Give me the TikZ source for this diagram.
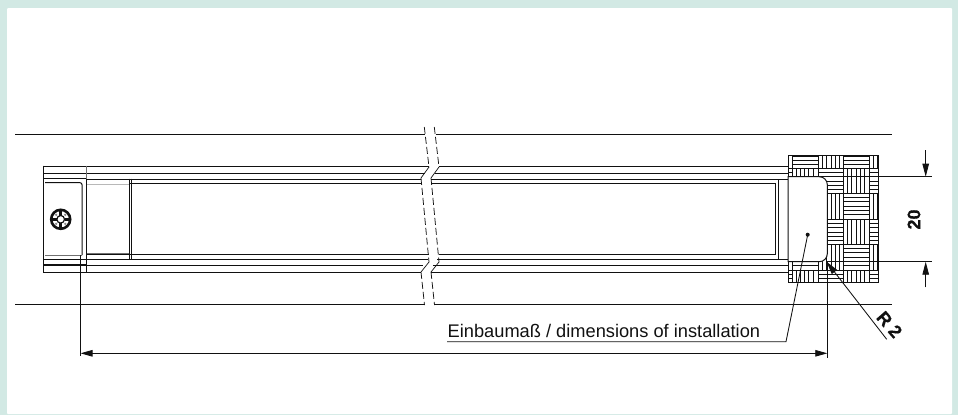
\documentclass[tikz,border=0pt]{standalone}
\usepackage{fontspec}
\setmainfont{Liberation Sans}
\newfontfamily\boldlabel[FakeBold=0.6]{Liberation Sans Bold}
\usetikzlibrary{arrows.meta}
\definecolor{panelbg}{HTML}{D2E9E4}
\definecolor{ink}{HTML}{111111}
\tikzset{
  x=1pt,y=-1pt,
  ln/.style={draw=ink,line width=1pt},
  lnfine/.style={draw=ink,line width=0.7pt},
  grey/.style={draw=ink!60,line width=0.9pt},
  faint/.style={draw=ink!30,line width=0.8pt},
  brk/.style={draw=ink,line width=0.75pt,dash pattern=on 7pt off 3pt},
  dim/.style={draw=ink,line width=0.85pt},
  tip/.style={-{Triangle[length=13pt,width=6.5pt]}},
  tips/.style={{Triangle[length=12pt,width=6.5pt]}-{Triangle[length=12pt,width=6.5pt]}},
  lab/.style={font=\fontsize{18.25}{20}\selectfont,text=ink,inner sep=0pt},
  blab/.style={font=\fontsize{18}{20}\boldlabel,text=ink,inner sep=0pt},
}
\begin{document}
\begin{tikzpicture}
\useasboundingbox (0,0) rectangle (958,415);
\fill[panelbg] (0,0) rectangle (958,415);
\fill[white,rounded corners=1pt] (7,8) rectangle (952,414);

% long reference lines
\foreach \yy/\a/\b in {134/424.5/435.5,304/424.5/434.5}{
  \draw[ln] (15,\yy) -- (\a,\yy);
  \draw[ln] (\b,\yy) -- (892,\yy);
}

% body, left of and right of the break
\foreach \yy/\a/\b in {166.5/429/439,173/424.5/435,179/421/431,183.3/421/431,254.8/429/439,259/427.5/437,265/423/433,272.5/421/431}{
  \draw[ln] (43.3,\yy) -- (\a,\yy);
}
\foreach \yy/\a/\b/\e in {166.5/429/439/788,173/424.5/435/788,179/421/431/788,183.3/421/431/775.8,254.8/429/439/775.8,259/427.5/437/788,265/423/433/788,272.5/421/431/788}{
  \draw[ln] (\b,\yy) -- (\e,\yy);
}
% left end cap: white out what belongs to the screw housing
\fill[white] (44,174) rectangle (85.6,264.4);
\fill[white] (87,180) rectangle (129,254);
\draw[ln] (43.3,165.7) -- (43.3,272.5);
\draw[grey] (86,165.7) -- (86,178.7);
\draw[ln] (86,178.7) -- (86,272.5);
\draw[ln] (43.3,178.7) -- (86,178.7);
\draw[ln] (43.3,259) -- (86,259);
\draw[ln] (45,182.7) -- (80,182.7) arc[start angle=-90,end angle=0,radius=2] -- (82,255);
\draw[grey] (45,255.5) -- (82,255.5);
\draw[ln] (43.3,264.5) -- (86,264.5);
\draw[faint] (87,184) -- (129,184);
\draw[grey] (86.5,253.5) -- (129,253.5);
\draw[ln] (129.4,178.7) -- (129.4,259);
\draw[ln] (131,178.7) -- (131,259);

% screw
\coordinate (screw) at (60.7,219.3);
\draw[draw=ink,line width=2.6pt] (screw) circle[radius=9.5];
\draw[draw=ink,line width=1.2pt] (screw) circle[radius=3.8];
\foreach \r in {0,90,180,270}{
  \draw[draw=ink,line width=2.6pt] (screw) ++(\r:3.8) -- ++(\r:5.2);
}
\foreach \r in {45,135,225,315}{
  \fill[ink!50] (screw) ++(\r:6.4) circle[radius=1.3];
}

% break lines
\foreach \dx in {0,10}{
  \draw[brk] (424.3+\dx,127) -- (429+\dx,167);
  \draw[lnfine] (429+\dx,167) -- (421+\dx,178);
  \draw[brk] (421+\dx,178) -- (429+\dx,262);
  \draw[lnfine] (429+\dx,262) -- (421+\dx,272);
  \draw[brk] (421+\dx,272) -- (424.5+\dx,305);
}

% right end: inner frame
\draw[ln] (778.5,179) -- (778.5,259);
\draw[ln] (775.8,183.3) -- (775.8,254.8);

% hatched block
\begin{scope}
\clip (788,155.3) rectangle (878,282.7);
\foreach \r/\yt in {0/143.3,1/168.3,2/193.3,3/219.3,4/244.3,5/270}{
  \foreach \c/\xl in {0/767,1/792,2/818.3,3/843.3,4/869.3}{
    \pgfmathtruncatemacro{\myp}{mod(\r+\c,2)}
    \ifnum\myp=0
      \foreach \k in {1,...,5}{
        \draw[lnfine] ({\xl+\k*4.2},\yt) -- ({\xl+\k*4.2},{\yt+25.5});
      }
    \else
      \foreach \k in {1,...,5}{
        \draw[lnfine] (\xl,{\yt+\k*4.2}) -- ({\xl+25.5},{\yt+\k*4.2});
      }
    \fi
  }
}
\foreach \xx in {792,818.3,843.3,869.3}{\draw[ln] (\xx,155) -- (\xx,283);}
\foreach \yy in {168.3,193.3,219.3,244.3,270}{\draw[ln] (788,\yy) -- (878,\yy);}
\end{scope}
\draw[ln] (788,155.3) rectangle (878,282.7);

% cut-out with radius corners
\filldraw[fill=white,draw=ink,line width=1pt] (788,176.7) -- (819.3,176.7) arc[start angle=-90,end angle=0,radius=8] -- (827.3,253.7) arc[start angle=0,end angle=90,radius=8] -- (788,261.7) -- cycle;

% named points for the dimensions
\coordinate (holeTop) at (827.3,176.7);
\coordinate (holeBot) at (827.3,261.7);
\coordinate (leftRef) at (80,255);
\coordinate (leftEnd) at (80,356);
\coordinate (rightEnd) at (827.3,358);
\coordinate (dimA) at (80.5,353.3);
\coordinate (dimB) at (827.3,353.3);
\coordinate (topEnd) at (932,176.7);
\coordinate (botEnd) at (932,261.7);
\coordinate (vTop) at (925.7,150);
\coordinate (vBot) at (925.7,287.3);
\coordinate (vTipT) at (925.7,176.7);
\coordinate (vTipB) at (925.7,261.7);
\coordinate (rFar) at (886.7,339.3);
\coordinate (rTip) at (826.5,261.7);
\coordinate (dot) at (807.7,234.7);
\coordinate (elbow) at (786,341.7);
\coordinate (lineL) at (447,341.7);

\draw[dim] (holeTop) -- (topEnd);
\draw[dim] (holeBot) -- (botEnd);
\draw[dim] (leftRef) -- (leftEnd);
\draw[dim] (holeBot) -- (rightEnd);
\draw[dim,tips] (dimA) -- (dimB);
\draw[dim,tip] (vTop) -- (vTipT);
\draw[dim,tip] (vBot) -- (vTipB);
\draw[dim,tip] (rFar) -- (rTip);
\fill[ink] (dot) circle[radius=2];
\draw[dim] (lineL) -- (elbow) -- (dot);

\node[lab,anchor=base west] (einbau) at (447.5,337) {Einbaumaß / dimensions of installation};
\node[blab,rotate=90] (twenty) at (914,219.5) {\selectfont 20};
\node[blab,rotate=-49] (rtwo) at (889.5,324.5) {\selectfont R 2};
\end{tikzpicture}
\end{document}
